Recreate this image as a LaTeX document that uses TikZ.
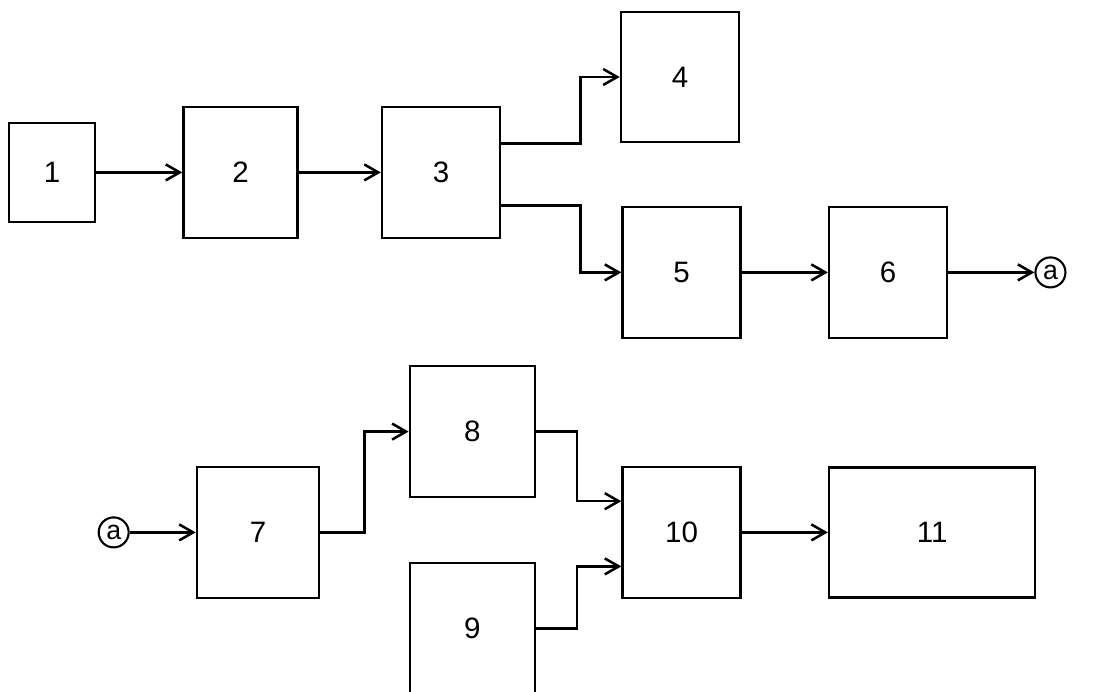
\documentclass[tikz,border=0pt]{standalone}
\usepackage{fontspec}
\setmainfont{Liberation Sans}
\usetikzlibrary{positioning}
\usetikzlibrary{arrows.meta}
\tikzset{
block/.style={rectangle, draw, line width=1.8pt, minimum width=2.95cm, minimum height=3.275cm, inner sep=0pt, font=\fontsize{21}{24}\selectfont},
small_block/.style={block, minimum width=2.15cm, minimum height=2.475cm},
wide_block/.style={block, minimum width=5.15cm, minimum height=3.25cm},
joint/.style={circle, draw, line width=1.5pt, minimum size=0.75cm, inner sep=0pt, font=\fontsize{19}{22}\selectfont},
flow/.style={-{Straight Barb[length=3.5mm,width=4mm]}, line width=1.8pt}
}
\begin{document}
\begin{tikzpicture}
    \useasboundingbox (0,0) rectangle (27.525,-17.3);
    % first row
    \node[small_block] (b1) at (1.3,-4.31) {1};
    \node[block, minimum width=2.85cm] (b2) [right=2.15cm of b1] {2};
    \node[block] (b3) [right=2.05cm of b2] {3};
    \node[block, minimum height=3.25cm] (b4) at (17.0,-1.925) {4};
    \node[block] (b5) at (17.04,-6.81) {5};
    \node[block] (b6) [right=2.15cm of b5] {6};
    \node[joint] (a_out) [right=2.15cm of b6] {a};

    \draw[flow] (b1) -- (b2);
    \draw[flow] (b2) -- (b3);
    \draw[flow] (b3.east |- b4.south) -- ++(1.975cm,0) |- (b4.west);
    \draw[flow] (b3.east |- b5.north) -- ++(1.975cm,0) |- (b5.west);
    \draw[flow] (b5) -- (b6);
    \draw[flow] (b6) -- (a_out);

    % second row
    \node[block, minimum width=3.05cm] (b7) at (6.45,-13.31) {7};
    \node[joint] (a_in) [left=1.65cm of b7] {a};
    \node[block, minimum width=3.125cm] (b8) at (11.81,-10.79) {8};
    \node[block, minimum width=3.125cm] (b9) at (11.81,-15.71) {9};
    \node[block] (b10) at (17.04,-13.31) {10};
    \node[wide_block] (b11) [right=2.15cm of b10] {11};

    \draw[flow] (a_in) -- (b7);
    \draw[flow] (b7.east) -- ++(1.1cm,0) |- (b8.west);
    \draw[flow] (b8.east) -- ++(1.025cm,0) |- ([yshift=0.78cm]b10.west);
    \draw[flow] (b9.east) -- ++(1.025cm,0) |- ([yshift=-0.85cm]b10.west);
    \draw[flow] (b10) -- (b11);
\end{tikzpicture}
\end{document}
